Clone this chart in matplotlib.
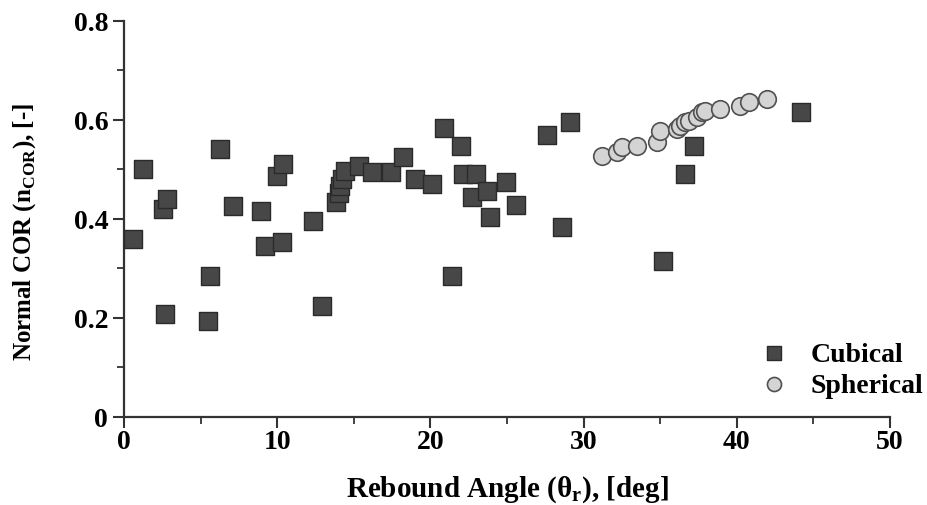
import numpy as np
import matplotlib
matplotlib.use("Agg")
import matplotlib.pyplot as plt
from matplotlib.ticker import MultipleLocator

# Cubical particles: rebound angle [deg] vs normal COR
cub_x = [0.6, 1.24, 2.55, 2.8, 2.67, 5.48, 5.6, 6.26, 7.1, 8.9, 9.2, 10.0,
         10.4, 10.3, 12.3, 12.9, 13.8, 14.0, 14.1, 14.2, 14.4, 15.3, 16.2,
         17.4, 18.2, 19.0, 20.1, 20.9, 21.4, 22.0, 22.1, 23.0, 22.7, 23.7,
         23.9, 24.9, 25.6, 27.6, 28.6, 29.1, 35.2, 36.6, 37.2, 44.2]
cub_y = [0.36, 0.501, 0.42, 0.44, 0.208, 0.194, 0.285, 0.541, 0.426, 0.416,
         0.346, 0.487, 0.511, 0.353, 0.396, 0.224, 0.434, 0.452, 0.466, 0.48,
         0.497, 0.507, 0.495, 0.495, 0.525, 0.481, 0.471, 0.584, 0.285, 0.547,
         0.491, 0.49, 0.444, 0.457, 0.404, 0.474, 0.427, 0.569, 0.384, 0.595,
         0.315, 0.491, 0.547, 0.616]

# Spherical particles
sph_x = [31.2, 32.2, 32.5, 33.5, 34.8, 35.0, 36.1, 36.3, 36.6, 36.9, 37.4,
         37.7, 37.9, 38.9, 40.2, 40.8, 42.0]
sph_y = [0.527, 0.535, 0.545, 0.548, 0.555, 0.578, 0.582, 0.588, 0.596,
         0.598, 0.606, 0.616, 0.618, 0.622, 0.628, 0.636, 0.642]

plt.rcParams['font.family'] = ['Liberation Serif', 'DejaVu Serif']
plt.rcParams['font.weight'] = 'bold'
plt.rcParams['mathtext.fontset'] = 'custom'
plt.rcParams['mathtext.rm'] = 'Liberation Serif:bold'
plt.rcParams['mathtext.bf'] = 'Liberation Serif:bold'

fig = plt.figure(figsize=(9.27, 5.06), dpi=100)
ax = fig.add_axes([0.134, 0.174, 0.826, 0.783])

ax.scatter(cub_x, cub_y, marker='s', s=150, c='#474747', edgecolors='#2a2a2a',
           linewidths=1.0, label='Cubical', zorder=3)
ax.scatter(sph_x, sph_y, marker='o', s=160, c='#d4d4d4', edgecolors='#505050',
           linewidths=1.2, label='Spherical', zorder=3)

ax.set_xlim(0, 50)
ax.set_ylim(0, 0.8)
ax.xaxis.set_major_locator(MultipleLocator(10))
ax.xaxis.set_minor_locator(MultipleLocator(5))
ax.yaxis.set_major_locator(MultipleLocator(0.2))
ax.yaxis.set_minor_locator(MultipleLocator(0.1))
ax.set_yticks([0, 0.2, 0.4, 0.6, 0.8])
ax.set_yticklabels(['0', '0.2', '0.4', '0.6', '0.8'])

for side in ['top', 'right']:
    ax.spines[side].set_visible(False)
for side in ['left', 'bottom']:
    ax.spines[side].set_linewidth(1.6)
    ax.spines[side].set_color('#333333')

ax.tick_params(which='major', direction='out', length=8, width=1.5,
               color='#333333', labelsize=20)
ax.tick_params(axis='x', which='major', pad=0.5)
ax.tick_params(which='minor', direction='out', length=5, width=1.3,
               color='#333333')

ax.set_xlabel(r'Rebound Angle (θ$_\mathregular{r}$), [deg]', fontsize=21,
              fontweight='bold', labelpad=14)
ax.set_ylabel(r'Normal COR (n$_\mathregular{COR}$), [-]', fontsize=18,
              fontweight='bold')
ax.yaxis.set_label_coords(-0.113, 0.47)

ax.legend(loc='lower right', bbox_to_anchor=(1.008, 0.19),
          bbox_transform=fig.transFigure, frameon=False, fontsize=20,
          handletextpad=0.3, labelspacing=0.2, markerscale=0.8,
          borderaxespad=0.0)

fig.savefig('out.png', dpi=100)
